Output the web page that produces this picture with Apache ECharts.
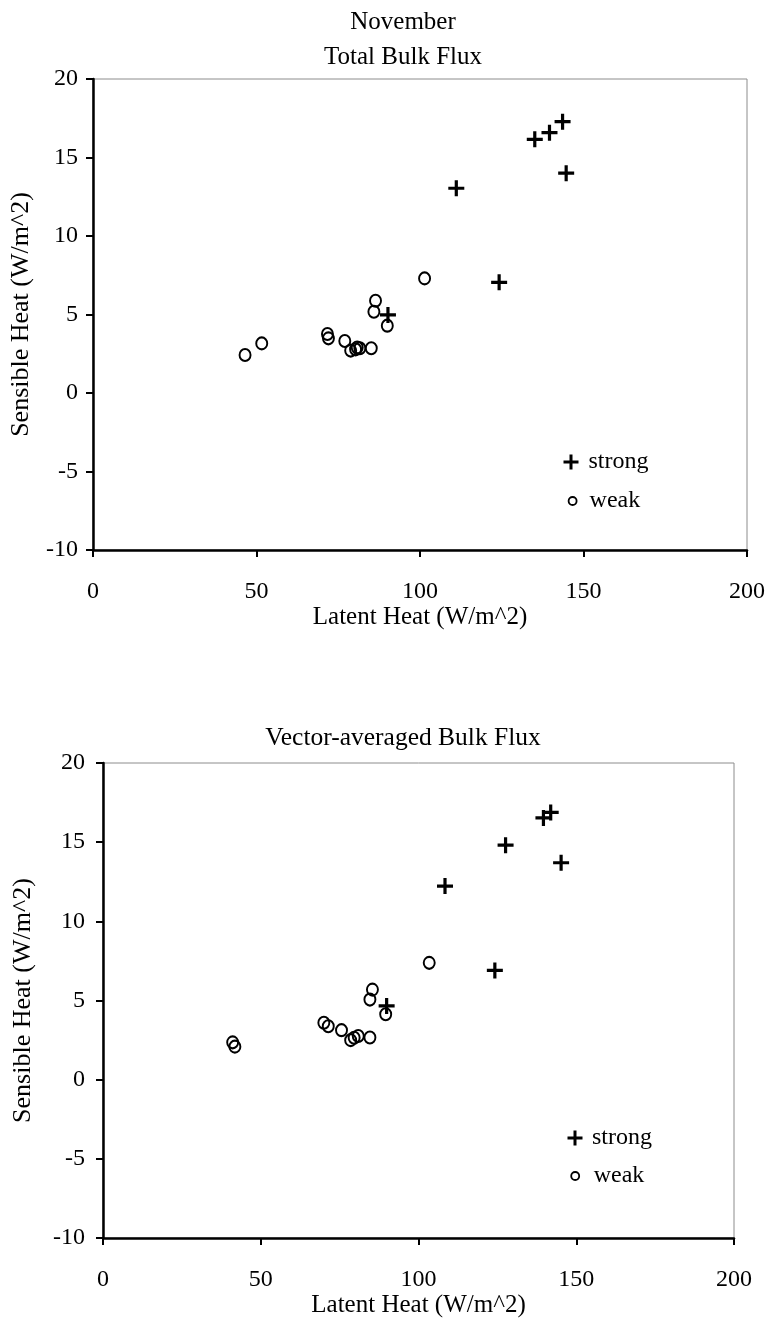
<!DOCTYPE html>
<html>
<head>
<meta charset="utf-8">
<title>November Bulk Flux</title>
<script src="https://cdn.jsdelivr.net/npm/echarts@6/dist/echarts.min.js"></script>
<style>
  html, body { margin: 0; padding: 0; background: #fff; }
  #chart { width: 769px; height: 1319px; }
</style>
</head>
<body>
<div id="chart"></div>
<script>
// Total bulk flux, strong-wind cases (latent, sensible) in W/m^2
const totalStrongLatent   = [135.1, 139.6, 143.6, 144.7, 111.1, 124.2, 90.2];
const totalStrongSensible = [16.16, 16.58, 17.28, 14.0, 13.04, 7.05, 4.97];
// Total bulk flux, weak-wind cases
const totalWeakLatent   = [101.4, 86.4, 85.9, 90.0, 71.7, 72.0, 77.0, 78.8, 80.3, 81.6, 80.8, 85.1, 51.6, 46.5];
const totalWeakSensible = [7.3, 5.88, 5.18, 4.29, 3.76, 3.48, 3.31, 2.7, 2.78, 2.85, 2.9, 2.85, 3.16, 2.42];
// Vector-averaged bulk flux, strong-wind cases
const vecStrongLatent   = [139.6, 141.9, 127.6, 145.2, 108.4, 124.2, 89.9];
const vecStrongSensible = [16.53, 16.88, 14.81, 13.7, 12.23, 6.9, 4.66];
// Vector-averaged bulk flux, weak-wind cases
const vecWeakLatent   = [103.4, 85.4, 84.6, 89.6, 70.0, 71.4, 75.6, 78.5, 79.6, 80.9, 84.6, 41.1, 41.8];
const vecWeakSensible = [7.38, 5.69, 5.06, 4.14, 3.60, 3.38, 3.13, 2.50, 2.65, 2.76, 2.67, 2.36, 2.09];

const seriesNames = ['strong', 'weak'];
const titles = ['November\nTotal Bulk Flux', 'Vector-averaged Bulk Flux'];
const xName = 'Latent Heat (W/m^2)';
const yName = 'Sensible Heat (W/m^2)';

const zip = (xs, ys) => xs.map((x, i) => [x, ys[i]]);

const FONT = "'Liberation Serif', 'Times New Roman', serif";
const CROSS = 'path://M0,6.4H16V9.6H0Z M6.4,0H9.6V16H6.4Z';

const chart = echarts.init(document.getElementById('chart'), null, { renderer: 'canvas' });

const grids = [
  { left: 92, top: 79, width: 655, height: 471 },
  { left: 103, top: 763, width: 631, height: 478 }
];

function xAxisFor(i) {
  return {
    gridIndex: i, type: 'value', min: 0, max: 200, interval: 50,
    name: xName, nameLocation: 'middle', nameGap: i === 0 ? 47 : 48,
    nameTextStyle: { fontFamily: FONT, fontSize: 25, color: '#000' },
    axisLine: { show: true, onZero: false, lineStyle: { color: '#000', width: 2.5 } },
    axisTick: { show: true, inside: false, length: 7, lineStyle: { color: '#000', width: 2 } },
    axisLabel: { margin: 30, fontFamily: FONT, fontSize: 24, color: '#000' },
    splitLine: { show: false }
  };
}
function yAxisFor(i) {
  return {
    gridIndex: i, type: 'value', min: -10, max: 20, interval: 5,
    name: yName, nameLocation: 'middle', nameGap: i === 0 ? 59 : 67,
    nameTextStyle: { fontFamily: FONT, fontSize: 26, color: '#000' },
    axisLine: { show: true, onZero: false, lineStyle: { color: '#000', width: 2.5 } },
    axisTick: { show: true, inside: false, length: 7, lineStyle: { color: '#000', width: 2 } },
    axisLabel: { margin: i === 0 ? 15 : 18, fontFamily: FONT, fontSize: 24, color: '#000' },
    splitLine: { show: false }
  };
}

function strongSeries(i, data) {
  return {
    name: 'strong', type: 'scatter', xAxisIndex: i, yAxisIndex: i,
    symbol: CROSS, symbolSize: 16, data: data,
    itemStyle: { color: '#000', opacity: 1 },
    emphasis: { disabled: true }, z: 3
  };
}
function weakSeries(i, data) {
  return {
    name: 'weak', type: 'scatter', xAxisIndex: i, yAxisIndex: i,
    symbol: 'circle', symbolSize: [11, 12], data: data,
    itemStyle: { color: 'rgba(255,255,255,0)', borderColor: '#000', borderWidth: 2, opacity: 1 },
    emphasis: { disabled: true }, z: 2
  };
}

// one legend entry per box; size = icon edge, pad = extra room before the label
function legendFor(name, left, top, size, pad) {
  return {
    data: [name === 'strong' ? { name: 'strong', icon: CROSS } : { name: 'weak', icon: 'circle' }],
    left: left, top: top, padding: 0, orient: 'vertical',
    itemWidth: size, itemHeight: size, selectedMode: false,
    textStyle: { fontFamily: FONT, fontSize: 24, color: '#000', padding: [0, 0, 0, pad] },
    itemStyle: name === 'weak' ? { color: 'rgba(255,255,255,0)', borderColor: '#000', borderWidth: 1.8 } : { color: '#000' }
  };
}

const option = {
  backgroundColor: '#fff',
  animation: false,
  title: [
    { text: titles[0], left: 403, top: 5, textAlign: 'center', padding: 0,
      textStyle: { fontFamily: FONT, fontSize: 25, fontWeight: 'normal', color: '#000', lineHeight: 35 } },
    { text: titles[1], left: 403, top: 721, textAlign: 'center', padding: 0,
      textStyle: { fontFamily: FONT, fontSize: 25.5, fontWeight: 'normal', color: '#000', lineHeight: 35 } }
  ],
  grid: grids.map(g => Object.assign({ show: true, borderColor: '#8c8c8c', borderWidth: 1, backgroundColor: 'transparent' }, g)),
  xAxis: [xAxisFor(0), xAxisFor(1)],
  yAxis: [yAxisFor(0), yAxisFor(1)],
  legend: [
    legendFor(seriesNames[0], 563.5, 450, 15, 5),
    legendFor(seriesNames[1], 567.7, 489, 8, 8),
    legendFor(seriesNames[0], 567.5, 1126, 15, 4.5),
    legendFor(seriesNames[1], 570.3, 1164, 8, 9.5)
  ],
  series: [
    strongSeries(0, zip(totalStrongLatent, totalStrongSensible)),
    weakSeries(0, zip(totalWeakLatent, totalWeakSensible)),
    strongSeries(1, zip(vecStrongLatent, vecStrongSensible)),
    weakSeries(1, zip(vecWeakLatent, vecWeakSensible))
  ]
};

chart.setOption(option);
</script>
</body>
</html>
